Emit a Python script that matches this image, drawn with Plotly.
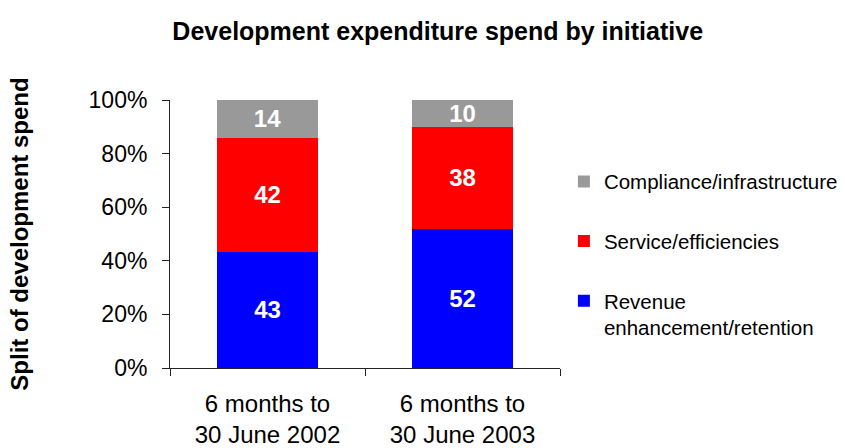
import plotly.graph_objects as go

# Periods and split of development spend by initiative
periods = ["6 months to<br>30 June 2002", "6 months to<br>30 June 2003"]
revenue = [43, 52]
service = [42, 38]
compliance = [14, 10]

series = [
    ("Revenue<br>enhancement/retention", revenue, "#0000FF", 3),
    ("Service/efficiencies", service, "#FF0000", 2),
    ("Compliance/infrastructure", compliance, "#999999", 1),
]

FONT = "Liberation Sans, Arial, sans-serif"

fig = go.Figure()
for i, (name, vals, color, rank) in enumerate(series):
    fig.add_trace(go.Bar(
        x=periods,
        y=vals,
        name=name,
        text=vals,
        texttemplate="%{text}",
        textposition="inside",
        insidetextanchor="middle",
        constraintext="none",
        textangle=0,
        textfont=dict(family=FONT, size=24, color="white", weight="bold"),
        marker=dict(color=color, line=dict(width=0)),
        width=0.52,
        legendgroup=f"g{i}",
        legendrank=rank,
        hoverinfo="skip",
    ))

fig.update_layout(
    width=845,
    height=448,
    barmode="stack",
    barnorm="percent",
    paper_bgcolor="white",
    plot_bgcolor="white",
    margin=dict(l=170, r=285, t=100, b=80, autoexpand=False),
    font=dict(family=FONT, color="black"),
    title=dict(
        text="Development expenditure spend by initiative",
        font=dict(family=FONT, size=25, color="black", weight="bold"),
        x=0.518, xanchor="center",
        y=1 - 31 / 448, yanchor="middle",
        xref="container", yref="container",
    ),
    legend=dict(
        x=1.01, xanchor="left",
        y=0.77, yanchor="top",
        traceorder="grouped",
        tracegroupgap=30,
        valign="top",
        font=dict(family=FONT, size=20.5, color="black"),
        bgcolor="rgba(0,0,0,0)",
        itemclick=False,
    ),
    showlegend=True,
)

fig.update_xaxes(
    automargin=False,
    showline=True, linecolor="#222222", linewidth=1,
    ticks="outside", ticklen=7, tickcolor="#222222",
    tickson="boundaries",
    showgrid=False,
    ticklabelstandoff=14,
    tickfont=dict(family=FONT, size=24, color="black"),
)
fig.update_yaxes(
    automargin=False,
    range=[0, 100],
    dtick=20,
    ticksuffix="%",
    showline=True, linecolor="#222222", linewidth=1,
    ticks="outside", ticklen=7, tickcolor="#222222",
    showgrid=False, zeroline=False,
    ticklabelstandoff=10,
    tickfont=dict(family=FONT, size=23, color="black"),
    title=dict(
        text="Split of development spend",
        font=dict(family=FONT, size=24, color="black", weight="bold"),
        standoff=53,
    ),
)

fig.write_html("out.html")
